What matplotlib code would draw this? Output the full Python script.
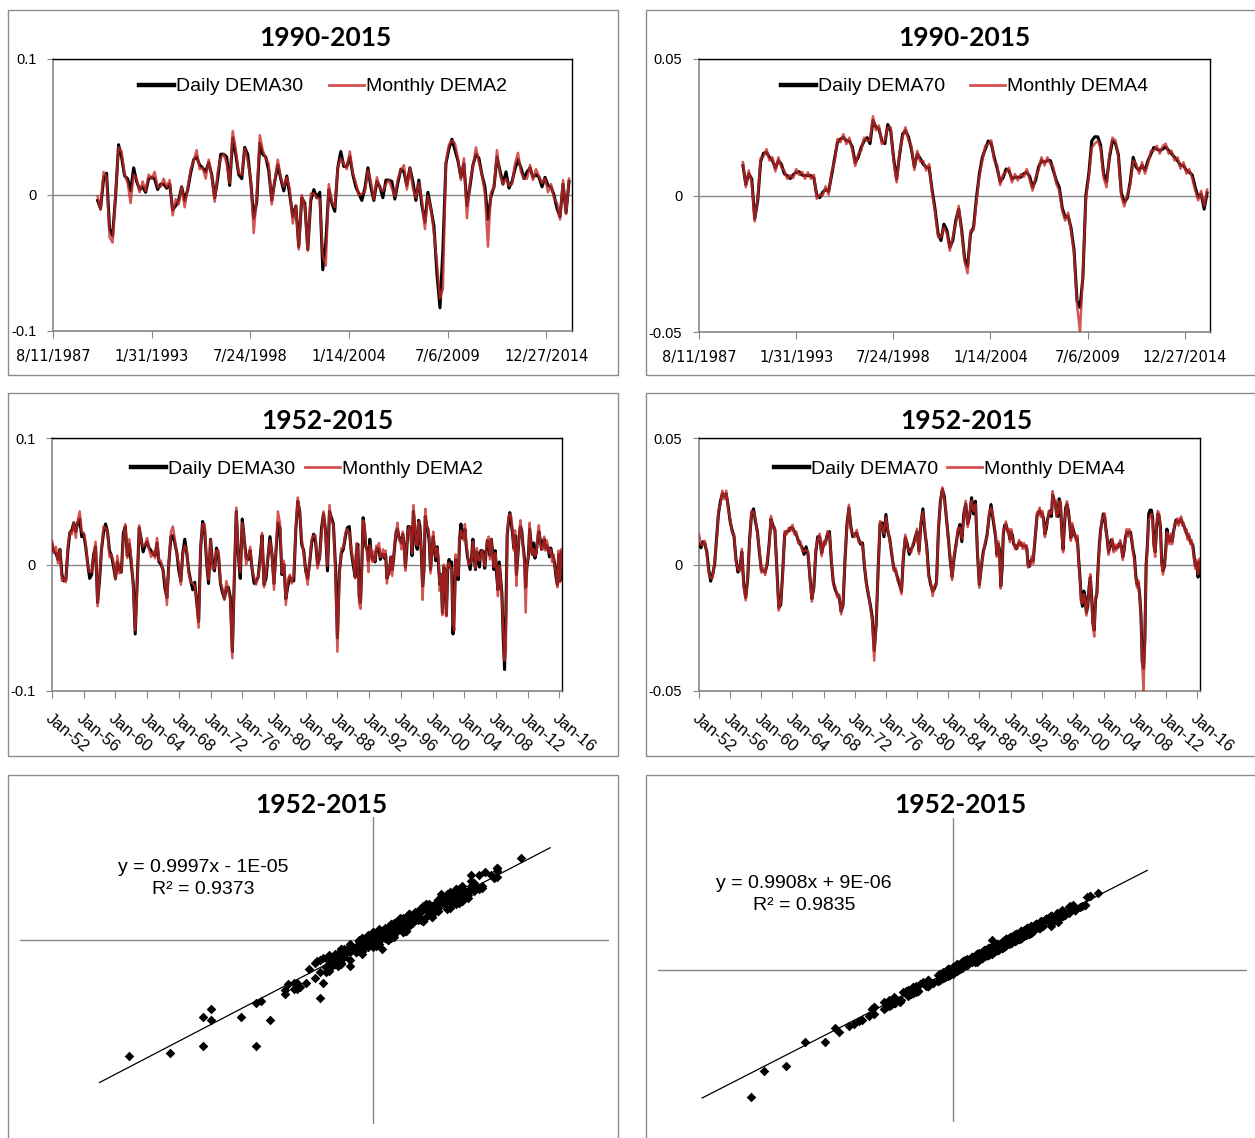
import numpy as np
import pandas as pd
import matplotlib
matplotlib.use("Agg")
import matplotlib.pyplot as plt
from matplotlib.patches import Rectangle
from matplotlib.lines import Line2D

# ---------------- data ----------------
# Quarterly readings 1952-01 .. 1989-10
early_dema30_daily = [
    0.016, 0.010, 0.009, 0.004, 0.012, -0.008, -0.013, -0.012, 0.011, 0.025,
    0.027, 0.033, 0.026, 0.033, 0.036, 0.022, 0.024, 0.014, 0.001, -0.011,
    -0.008, 0.008, 0.014, -0.030, -0.012, 0.012, 0.025, 0.032, 0.026, 0.011,
    0.007, -0.001, -0.011, 0.002, -0.004, -0.006, 0.025, 0.030, 0.007, 0.016,
    0.000, -0.015, -0.055, -0.012, 0.029, 0.020, 0.010, 0.015, 0.018, 0.013,
    0.011, 0.008, 0.007, 0.017, 0.002, 0.000, -0.004, -0.019, -0.026, 0.002,
    0.022, 0.023, 0.017, 0.009, -0.005, -0.013, 0.009, 0.020, 0.009, -0.005,
    -0.013, -0.020, -0.014, -0.029, -0.045, 0.013, 0.034, 0.028, 0.002, -0.015,
    0.020, 0.001, -0.005, 0.013, 0.007, -0.015, -0.022, -0.027, -0.018, -0.018,
    -0.026, -0.069, -0.010, 0.042, 0.008, -0.011, 0.036, 0.020, 0.005, 0.004,
    0.011, -0.004, -0.015, -0.013, -0.010, 0.005, 0.023, -0.016, -0.011, 0.006,
    0.022, 0.008, -0.015, 0.010, 0.033, 0.029, -0.008, 0.000, -0.027, -0.017,
    -0.010, -0.013, -0.013, 0.027, 0.050, 0.042, 0.016, 0.011, -0.005, -0.011,
    0.001, 0.017, 0.024, 0.018, 0.000, 0.005, 0.029, 0.040, 0.027, -0.005,
    0.042, 0.037, 0.032, 0.000, -0.058, -0.006, 0.009, 0.012, 0.022, 0.029,
    0.030, 0.010]
early_dema2_monthly = [
    0.019, 0.009, 0.014, 0.001, 0.012, -0.013, -0.011, -0.014, 0.015, 0.026,
    0.024, 0.033, 0.021, 0.035, 0.042, 0.026, 0.025, 0.017, 0.000, -0.006,
    -0.006, 0.006, 0.018, -0.033, -0.009, 0.011, 0.030, 0.029, 0.026, 0.006,
    0.008, 0.002, -0.012, 0.007, -0.007, -0.006, 0.020, 0.032, 0.005, 0.020,
    0.005, -0.018, -0.052, -0.017, 0.031, 0.018, 0.014, 0.016, 0.021, 0.012,
    0.006, 0.010, 0.005, 0.021, 0.003, 0.003, -0.005, -0.014, -0.032, 0.002,
    0.026, 0.030, 0.020, 0.008, 0.000, -0.016, 0.009, 0.015, 0.011, -0.007,
    -0.014, -0.015, -0.017, -0.029, -0.050, 0.015, 0.032, 0.032, 0.003, -0.012,
    0.020, -0.004, -0.003, 0.011, 0.011, -0.014, -0.019, -0.028, -0.013, -0.021,
    -0.028, -0.074, -0.009, 0.045, 0.007, -0.006, 0.033, 0.020, 0.000, 0.006,
    0.014, -0.005, -0.010, -0.016, -0.010, 0.000, 0.025, -0.018, -0.007, 0.007,
    0.019, 0.008, -0.020, 0.012, 0.042, 0.033, -0.007, 0.003, -0.032, -0.012,
    -0.008, -0.015, -0.009, 0.028, 0.053, 0.041, 0.021, 0.008, -0.005, -0.016,
    0.002, 0.020, 0.023, 0.023, -0.003, 0.005, 0.024, 0.042, 0.025, -0.001,
    0.047, 0.034, 0.032, -0.005, -0.069, -0.008, 0.013, 0.013, 0.025, 0.028,
    0.025, 0.012]
early_dema70_daily = [
    0.0080, 0.0066, 0.0090, 0.0082, 0.0050, -0.0020, -0.0066, -0.0040, 0.0000, 0.0100,
    0.0200, 0.0250, 0.0280, 0.0270, 0.0280, 0.0230, 0.0170, 0.0135, 0.0110, 0.0020,
    -0.0030, -0.0015, 0.0050, -0.0080, -0.0130, -0.0060, 0.0100, 0.0200, 0.0220, 0.0170,
    0.0130, 0.0050, -0.0020, -0.0026, -0.0030, 0.0000, 0.0080, 0.0180, 0.0155, 0.0135,
    -0.0015, -0.0170, -0.0160, -0.0030, 0.0120, 0.0130, 0.0132, 0.0145, 0.0145, 0.0130,
    0.0118, 0.0095, 0.0080, 0.0066, 0.0040, 0.0070, 0.0040, -0.0050, -0.0135, -0.0090,
    0.0050, 0.0110, 0.0110, 0.0045, 0.0080, 0.0090, 0.0120, 0.0130, 0.0010, -0.0070,
    -0.0100, -0.0118, -0.0130, -0.0185, -0.0160, 0.0020, 0.0160, 0.0224, 0.0150, 0.0110,
    0.0120, 0.0125, 0.0100, 0.0080, 0.0085, -0.0010, -0.0075, -0.0120, -0.0160, -0.0210,
    -0.0340, -0.0240, -0.0020, 0.0160, 0.0165, 0.0110, 0.0198, 0.0130, 0.0100, 0.0040,
    -0.0013, -0.0026, -0.0053, -0.0080, -0.0106, 0.0030, 0.0106, 0.0080, 0.0040, 0.0060,
    0.0075, 0.0106, 0.0130, 0.0053, 0.0160, 0.0220, 0.0130, 0.0070, -0.0040, -0.0080,
    -0.0106, -0.0095, -0.0070, 0.0140, 0.0250, 0.0297, 0.0270, 0.0190, 0.0110, 0.0020,
    -0.0050, 0.0026, 0.0080, 0.0130, 0.0158, 0.0090, 0.0200, 0.0240, 0.0160, 0.0190,
    0.0264, 0.0200, 0.0250, 0.0050, -0.0080, -0.0010, 0.0050, 0.0080, 0.0120, 0.0190,
    0.0237, 0.0180]
early_dema4_monthly = [
    0.0120, 0.0078, 0.0078, 0.0094, 0.0038, -0.0032, -0.0054, -0.0052, 0.0012, 0.0088,
    0.0212, 0.0238, 0.0292, 0.0258, 0.0292, 0.0218, 0.0182, 0.0123, 0.0122, 0.0008,
    -0.0018, -0.0027, 0.0062, -0.0092, -0.0142, -0.0048, 0.0088, 0.0212, 0.0208, 0.0182,
    0.0118, 0.0062, -0.0032, -0.0014, -0.0042, 0.0012, 0.0068, 0.0192, 0.0143, 0.0147,
    -0.0027, -0.0182, -0.0148, -0.0042, 0.0132, 0.0118, 0.0144, 0.0133, 0.0157, 0.0118,
    0.0130, 0.0083, 0.0092, 0.0054, 0.0052, 0.0058, 0.0052, -0.0062, -0.0147, -0.0078,
    0.0062, 0.0098, 0.0122, 0.0033, 0.0092, 0.0078, 0.0132, 0.0118, 0.0022, -0.0082,
    -0.0088, -0.0130, -0.0118, -0.0197, -0.0148, 0.0032, 0.0148, 0.0236, 0.0138, 0.0122,
    0.0108, 0.0137, 0.0088, 0.0092, 0.0073, 0.0002, -0.0087, -0.0108, -0.0172, -0.0222,
    -0.0380, -0.0228, -0.0032, 0.0172, 0.0153, 0.0122, 0.0186, 0.0142, 0.0088, 0.0052,
    -0.0025, -0.0014, -0.0065, -0.0068, -0.0118, 0.0042, 0.0118, 0.0068, 0.0052, 0.0048,
    0.0087, 0.0094, 0.0142, 0.0041, 0.0172, 0.0208, 0.0142, 0.0058, -0.0052, -0.0068,
    -0.0125, -0.0083, -0.0082, 0.0152, 0.0238, 0.0305, 0.0258, 0.0202, 0.0098, 0.0032,
    -0.0062, 0.0038, 0.0068, 0.0142, 0.0146, 0.0102, 0.0188, 0.0252, 0.0148, 0.0202,
    0.0252, 0.0212, 0.0238, 0.0062, -0.0092, 0.0002, 0.0038, 0.0092, 0.0108, 0.0202,
    0.0225, 0.0192]

# Bi-monthly readings 1990-02 .. 2016-04
late_dema30_daily = [
    -0.004, -0.010, 0.012, 0.016, -0.025, -0.030, 0.000, 0.037, 0.028, 0.014,
    0.012, 0.003, 0.020, 0.010, 0.004, 0.006, 0.002, 0.012, 0.013, 0.012,
    0.004, 0.008, 0.008, 0.005, 0.008, -0.011, -0.008, -0.004, 0.006, -0.004,
    0.004, 0.016, 0.026, 0.028, 0.022, 0.020, 0.017, 0.024, 0.015, -0.002,
    0.012, 0.030, 0.030, 0.028, 0.007, 0.042, 0.030, 0.015, 0.012, 0.035,
    0.030, 0.010, -0.017, -0.005, 0.038, 0.030, 0.028, 0.018, -0.004, 0.010,
    0.022, 0.012, 0.003, 0.014, 0.000, -0.016, -0.008, -0.038, -0.002, -0.006,
    -0.040, -0.004, 0.004, -0.002, 0.002, -0.055, -0.035, 0.004, -0.006, -0.012,
    0.020, 0.032, 0.021, 0.021, 0.028, 0.015, 0.006, 0.001, -0.004, 0.005,
    0.020, 0.006, -0.004, 0.010, 0.006, -0.002, 0.011, 0.011, 0.010, -0.003,
    0.009, 0.019, 0.017, 0.007, 0.020, 0.010, -0.004, 0.011, -0.008, -0.020,
    0.002, -0.010, -0.023, -0.058, -0.083, -0.040, 0.023, 0.034, 0.041, 0.033,
    0.025, 0.013, 0.023, -0.008, 0.006, 0.022, 0.030, 0.027, 0.015, 0.006,
    -0.018, -0.001, 0.006, 0.028, 0.018, 0.008, 0.017, 0.005, 0.010, 0.019,
    0.026, 0.020, 0.012, 0.017, 0.020, 0.013, 0.015, 0.013, 0.006, 0.013,
    0.007, 0.006, 0.000, -0.010, -0.016, 0.008, -0.013, 0.010]
late_dema2_monthly = [
    -0.001, -0.011, 0.017, 0.013, -0.031, -0.035, 0.002, 0.035, 0.032, 0.015,
    0.009, -0.006, 0.015, 0.012, 0.002, 0.010, 0.003, 0.015, 0.012, 0.017,
    0.006, 0.006, 0.012, 0.006, 0.011, -0.015, -0.003, -0.007, 0.006, -0.009,
    0.005, 0.019, 0.025, 0.033, 0.019, 0.020, 0.012, 0.026, 0.013, -0.005,
    0.017, 0.027, 0.030, 0.023, 0.009, 0.047, 0.034, 0.016, 0.015, 0.034,
    0.025, 0.012, -0.028, -0.001, 0.044, 0.033, 0.027, 0.023, -0.007, 0.010,
    0.026, 0.013, 0.006, 0.013, 0.005, -0.021, -0.008, -0.040, 0.000, -0.008,
    -0.041, 0.001, 0.001, -0.002, -0.003, -0.045, -0.052, 0.008, -0.005, -0.009,
    0.020, 0.027, 0.023, 0.019, 0.032, 0.016, 0.009, 0.000, 0.001, 0.002,
    0.018, 0.010, -0.003, 0.013, 0.005, 0.003, 0.008, 0.011, 0.005, -0.001,
    0.012, 0.018, 0.022, 0.004, 0.020, 0.005, -0.002, 0.009, -0.004, -0.025,
    -0.001, -0.010, -0.028, -0.050, -0.076, -0.069, 0.024, 0.037, 0.040, 0.038,
    0.027, 0.011, 0.027, -0.017, 0.009, 0.021, 0.035, 0.024, 0.015, 0.001,
    -0.038, 0.002, 0.005, 0.033, 0.015, 0.008, 0.012, 0.007, 0.008, 0.023,
    0.031, 0.017, 0.012, 0.012, 0.022, 0.011, 0.019, 0.014, 0.009, 0.012,
    0.002, 0.008, -0.002, -0.006, -0.018, 0.011, -0.014, 0.012]
late_dema70_daily = [
    0.0110, 0.0040, 0.0080, 0.0060, -0.0085, -0.0020, 0.0125, 0.0155, 0.0158, 0.0140,
    0.0128, 0.0100, 0.0128, 0.0115, 0.0080, 0.0073, 0.0062, 0.0076, 0.0085, 0.0087,
    0.0075, 0.0073, 0.0073, 0.0073, 0.0064, 0.0000, -0.0008, 0.0012, 0.0022, 0.0015,
    0.0075, 0.0135, 0.0195, 0.0207, 0.0213, 0.0200, 0.0200, 0.0178, 0.0120, 0.0140,
    0.0176, 0.0200, 0.0212, 0.0190, 0.0275, 0.0250, 0.0245, 0.0200, 0.0190, 0.0260,
    0.0238, 0.0135, 0.0060, 0.0150, 0.0225, 0.0238, 0.0215, 0.0170, 0.0105, 0.0152,
    0.0135, 0.0115, 0.0103, 0.0103, 0.0020, -0.0050, -0.0140, -0.0165, -0.0105, -0.0128,
    -0.0190, -0.0165, -0.0090, -0.0050, -0.0125, -0.0232, -0.0260, -0.0140, -0.0115, -0.0010,
    0.0080, 0.0140, 0.0170, 0.0200, 0.0190, 0.0140, 0.0100, 0.0050, 0.0065, 0.0097,
    0.0090, 0.0060, 0.0067, 0.0067, 0.0067, 0.0080, 0.0085, 0.0070, 0.0030, 0.0055,
    0.0104, 0.0128, 0.0122, 0.0128, 0.0128, 0.0092, 0.0055, 0.0030, -0.0045, -0.0080,
    -0.0075, -0.0120, -0.0200, -0.0385, -0.0410, -0.0300, 0.0000, 0.0080, 0.0200, 0.0215,
    0.0215, 0.0185, 0.0080, 0.0050, 0.0140, 0.0200, 0.0190, 0.0150, 0.0010, -0.0025,
    -0.0010, 0.0050, 0.0140, 0.0104, 0.0092, 0.0110, 0.0092, 0.0128, 0.0152, 0.0176,
    0.0170, 0.0165, 0.0170, 0.0178, 0.0165, 0.0152, 0.0140, 0.0128, 0.0110, 0.0110,
    0.0092, 0.0085, 0.0075, 0.0030, -0.0006, 0.0005, -0.0050, 0.0010]
late_dema4_monthly = [
    0.0122, 0.0030, 0.0092, 0.0048, -0.0095, -0.0008, 0.0137, 0.0143, 0.0170, 0.0128,
    0.0140, 0.0088, 0.0140, 0.0103, 0.0092, 0.0061, 0.0074, 0.0064, 0.0097, 0.0075,
    0.0087, 0.0061, 0.0085, 0.0061, 0.0076, -0.0012, 0.0004, 0.0000, 0.0034, 0.0003,
    0.0087, 0.0123, 0.0207, 0.0195, 0.0225, 0.0188, 0.0212, 0.0166, 0.0108, 0.0152,
    0.0164, 0.0212, 0.0200, 0.0202, 0.0290, 0.0238, 0.0257, 0.0188, 0.0202, 0.0248,
    0.0250, 0.0123, 0.0048, 0.0162, 0.0213, 0.0250, 0.0203, 0.0182, 0.0093, 0.0164,
    0.0123, 0.0127, 0.0091, 0.0115, 0.0008, -0.0062, -0.0152, -0.0153, -0.0117, -0.0140,
    -0.0202, -0.0153, -0.0102, -0.0038, -0.0137, -0.0244, -0.0285, -0.0128, -0.0127, -0.0022,
    0.0068, 0.0128, 0.0182, 0.0188, 0.0202, 0.0128, 0.0112, 0.0038, 0.0077, 0.0085,
    0.0102, 0.0048, 0.0079, 0.0055, 0.0079, 0.0068, 0.0097, 0.0058, 0.0018, 0.0067,
    0.0092, 0.0140, 0.0110, 0.0140, 0.0116, 0.0104, 0.0043, 0.0018, -0.0057, -0.0092,
    -0.0063, -0.0132, -0.0212, -0.0400, -0.0500, -0.0285, -0.0015, 0.0068, 0.0175, 0.0190,
    0.0200, 0.0173, 0.0065, 0.0030, 0.0152, 0.0212, 0.0202, 0.0138, -0.0002, -0.0040,
    0.0002, 0.0038, 0.0128, 0.0116, 0.0080, 0.0122, 0.0080, 0.0116, 0.0164, 0.0164,
    0.0182, 0.0153, 0.0182, 0.0190, 0.0153, 0.0164, 0.0128, 0.0140, 0.0098, 0.0122,
    0.0080, 0.0097, 0.0063, 0.0018, -0.0018, 0.0017, -0.0038, 0.0022]

top_tick_labels = ["8/11/1987", "1/31/1993", "7/24/1998", "1/14/2004", "7/6/2009", "12/27/2014"]
mid_tick_years = [1952, 1956, 1960, 1964, 1968, 1972, 1976, 1980, 1984,
                  1988, 1992, 1996, 2000, 2004, 2008, 2012, 2016]
fit30 = (0.9997, -1e-05, 0.9373)
fit70 = (0.9908, 9e-06, 0.9835)

# ---------------- figure ----------------
W, H = 1255, 1138
fig = plt.figure(figsize=(W / 100, H / 100), dpi=100)
BLACK = "#000000"
RED = "#C62828"
GRAY = "#868686"
LEG_RED = "#D55050"
TICKFONT = "Liberation Sans"


def ax_px(x0, y0, x1, y1):
    return fig.add_axes([x0 / W, 1 - y1 / H, (x1 - x0) / W, (y1 - y0) / H])


def box(x0, y0, x1, y1):
    fig.add_artist(Rectangle((x0 / W, 1 - y1 / H), (x1 - x0) / W, (y1 - y0) / H,
                             transform=fig.transFigure, fill=False,
                             ec="#8c8c8c", lw=1.0))


def title(x, y, s):
    fig.text(x / W, 1 - y / H, s, ha="center", va="center",
             fontsize=19, fontweight="bold", family="Lato")


early_dates = pd.date_range("1952-01-01", periods=len(early_dema30_daily), freq="QS")
late_dates = pd.date_range("1990-02-01", periods=len(late_dema30_daily), freq="2MS")
all_dates = early_dates.append(late_dates)

d30 = np.array(early_dema30_daily + late_dema30_daily)
m2 = np.array(early_dema2_monthly + late_dema2_monthly)
d70 = np.array(early_dema70_daily + late_dema70_daily)
m4 = np.array(early_dema4_monthly + late_dema4_monthly)


def style_ts(ax, ylim, yticks, yticklabels):
    ax.set_ylim(*ylim)
    ax.set_yticks(yticks)
    ax.set_yticklabels(yticklabels, family=TICKFONT, fontsize=10.5)
    ax.yaxis.grid(True, color=GRAY, lw=1.0)
    ax.set_axisbelow(True)
    for s in ["top", "right"]:
        ax.spines[s].set_color(BLACK)
        ax.spines[s].set_linewidth(1.0)
    for s in ["left", "bottom"]:
        ax.spines[s].set_color(GRAY)
        ax.spines[s].set_linewidth(1.2)
    ax.tick_params(axis="y", direction="out", length=4, color=GRAY, pad=8)
    ax.tick_params(axis="x", direction="out", length=5, color=GRAY)


def legend(ax, l1, l2, anchor, colsp):
    h = [Line2D([], [], color=BLACK, lw=3.2), Line2D([], [], color=LEG_RED, lw=2.0)]
    ax.legend(h, [l1, l2], loc="upper center", bbox_to_anchor=anchor, ncol=2,
              frameon=False, prop={"family": "Liberation Sans", "size": 14},
              handlelength=1.8, handletextpad=0.1, columnspacing=colsp,
              borderaxespad=0.2)


def draw_lines(ax, dates, a, b):
    ax.plot(dates, a, color=BLACK, lw=2.2, solid_joinstyle="round", zorder=3)
    ax.plot(dates, b, color=RED, lw=1.8, alpha=0.78, solid_joinstyle="round", zorder=4)


# ---- top row (1990-2015) ----
top_ticks = pd.to_datetime(top_tick_labels, format="%m/%d/%Y")
for (bx0, bx1, ax_rect, a, b, ylim, yt, ytl, labs, tx) in [
    (8, 618, (53, 59, 572, 331), late_dema30_daily, late_dema2_monthly,
     (-0.1, 0.1), [-0.1, 0, 0.1], ["-0.1", "0", "0.1"], ("Daily DEMA30", "Monthly DEMA2"), 325),
    (646, 1262, (699, 59, 1210, 332), late_dema70_daily, late_dema4_monthly,
     (-0.05, 0.05), [-0.05, 0, 0.05], ["-0.05", "0", "0.05"], ("Daily DEMA70", "Monthly DEMA4"), 964),
]:
    box(bx0, 10, bx1, 375)
    title(tx, 38, "1990-2015")
    ax = ax_px(*ax_rect)
    draw_lines(ax, late_dates, a, b)
    style_ts(ax, ylim, yt, ytl)
    ax.set_xlim(pd.Timestamp("1987-08-11"), pd.Timestamp("2016-05-31"))
    ax.set_xticks(top_ticks)
    ax.set_xticklabels(top_tick_labels, family="DejaVu Sans", fontsize=10.5)
    ax.tick_params(axis="x", pad=8)
    legend(ax, labs[0], labs[1], (0.52, 0.974), 1.3)

# ---- middle row (1952-2015) ----
mid_ticks = pd.to_datetime([f"{y}-01-01" for y in mid_tick_years])
mid_labels = [f"Jan-{y % 100:02d}" for y in mid_tick_years]
for (bx0, bx1, ax_rect, a, b, ylim, yt, ytl, labs, tx) in [
    (8, 618, (52, 438, 562, 691), d30, m2,
     (-0.1, 0.1), [-0.1, 0, 0.1], ["-0.1", "0", "0.1"], ("Daily DEMA30", "Monthly DEMA2"), 327),
    (646, 1262, (699, 438, 1200, 691), d70, m4,
     (-0.05, 0.05), [-0.05, 0, 0.05], ["-0.05", "0", "0.05"], ("Daily DEMA70", "Monthly DEMA4"), 966),
]:
    box(bx0, 393, bx1, 756)
    title(tx, 421, "1952-2015")
    ax = ax_px(*ax_rect)
    draw_lines(ax, all_dates, a, b)
    style_ts(ax, ylim, yt, ytl)
    ax.set_xlim(pd.Timestamp("1952-01-01"), pd.Timestamp("2016-05-01"))
    ax.set_xticks(mid_ticks)
    ax.set_xticklabels(mid_labels, family=TICKFONT, fontsize=12, rotation=-40,
                       ha="left", va="top", rotation_mode="anchor")
    ax.tick_params(axis="x", pad=9)
    legend(ax, labs[0], labs[1], (0.5, 0.957), 0.5)

# ---- bottom row: scatter ----
for (bx0, bx1, ax_rect, xs, ys, lim, fit, tx, ty, sign, ttx) in [
    (8, 618, (20, 817, 609, 1124), d30, m2, (-0.12, 0.08), fit30, 203, 867, "-", 321),
    (646, 1262, (658, 818, 1247, 1122), d70, m4, (-0.06, 0.06), fit70, 804, 883, "+", 960),
]:
    box(bx0, 775, bx1, 1150)
    title(ttx, 805, "1952-2015")
    ax = ax_px(*ax_rect)
    ax.set_xlim(*lim)
    ax.set_ylim(*lim)
    ax.axhline(0, color=GRAY, lw=1.0, zorder=1)
    ax.axvline(0, color=GRAY, lw=1.0, zorder=1)
    ax.scatter(xs, ys, marker="D", s=24, color=BLACK, linewidths=0, zorder=3)
    slope, icpt, r2 = fit
    tline = np.array([xs.min() - 0.01, xs.max() + 0.01])
    ax.plot(tline, slope * tline + icpt, color=BLACK, lw=0.9, zorder=4)
    for s in ax.spines.values():
        s.set_visible(False)
    ax.set_xticks([])
    ax.set_yticks([])
    ax.patch.set_alpha(0)
    ic = f"{abs(icpt):.0E}"
    fig.text(tx / W, 1 - ty / H, f"y = {slope:.4f}x {sign} {ic}", ha="center",
             va="center", family="Liberation Sans", fontsize=14)
    fig.text(tx / W, 1 - (ty + 23) / H, f"R\u00b2 = {r2:.4f}", ha="center",
             va="center", family="Liberation Sans", fontsize=14)

fig.savefig("out.png", dpi=100)
